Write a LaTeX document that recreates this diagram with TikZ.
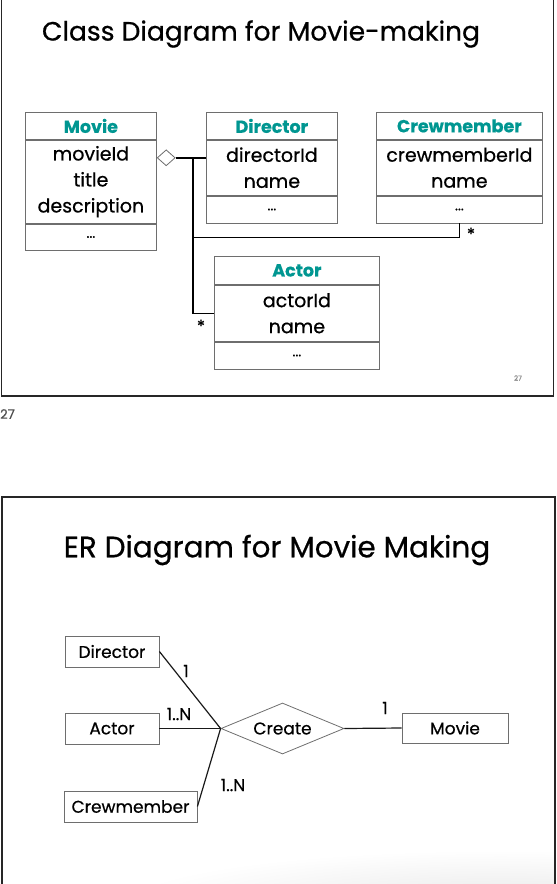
\documentclass[tikz,border=0pt]{standalone}
\usepackage{fontspec}
\setmainfont{Poppins}[RawFeature={embolden=0.6}]
\usetikzlibrary{shapes.geometric}
\definecolor{teal1}{RGB}{0,150,145}
\definecolor{boxgray}{RGB}{110,110,110}
\begin{document}
\begin{tikzpicture}[x=1pt,y=-1pt,
  slide/.style={draw=black!85, line width=1.4pt},
  comp/.style={draw=boxgray, line width=0.8pt, anchor=north west, inner sep=0pt, align=center},
  cname/.style={comp, text=teal1, font=\fontsize{17.5}{20}\selectfont\bfseries},
  cattr/.style={comp, font=\fontsize{19}{26}\selectfont},
  cops/.style={comp, font=\fontsize{14}{15}\selectfont},
  assoc/.style={draw=black, line width=1.4pt},
  aggd/.style={diamond, draw=boxgray, fill=white, line width=0.8pt, inner sep=0pt, minimum width=18pt, minimum height=16pt},
  mult/.style={inner sep=0pt, font=\fontsize{17}{20}\selectfont},
  erbox/.style={draw=boxgray, line width=0.8pt, inner sep=0pt, font=\fontsize{17}{20}\selectfont},
  erdia/.style={diamond, aspect=2.4, draw=boxgray, line width=0.8pt, inner sep=0pt, minimum width=123pt, minimum height=51pt, font=\fontsize{17}{20}\selectfont},
  erline/.style={draw=black!90, line width=1.2pt}
]
\useasboundingbox (0,0) rectangle (557,884);
% faint shadow at the bottom
\begin{scope}
\clip (3,840) rectangle (554,884);
\shade[inner color=black!9, outer color=white] (500,905) ellipse [x radius=380pt, y radius=55pt];
\end{scope}
% slide frames
\draw[slide] (1.5,0) -- (1.5,396) -- (553.5,396) -- (553.5,0);
\draw[slide] (2,884) -- (2,497) -- (555,497) -- (555,884);
% titles
\node[inner sep=0pt, font=\fontsize{26.5}{32}\selectfont] (t1) at (261,34) {Class Diagram for Movie-making};
\node[inner sep=0pt, font=\fontsize{29.5}{34}\selectfont] (t2) at (277,550) {ER Diagram for Movie Making};
% page numbers
\node[inner sep=0pt, text=black!45, font=\fontsize{7}{8}\selectfont] (pn) at (518,378) {27};
\node[inner sep=0pt, text=black!70, font=\fontsize{13}{14}\selectfont, anchor=west] (pn2) at (0,414) {27};

% ---- class Movie
\node[cname, minimum width=131pt, minimum height=27pt] (movH) at (25,112) {Movie};
\node[cattr, minimum width=131pt, minimum height=83pt] (movA) at (movH.south west) {movieId\\title\\description};
\node[cops, minimum width=131pt, minimum height=26pt] (movO) at (movA.south west) {...};
% ---- class Director
\node[cname, minimum width=131pt, minimum height=27pt] (dirH) at (206,112) {Director};
\node[cattr, minimum width=131pt, minimum height=55pt] (dirA) at (dirH.south west) {directorId\\name};
\node[cops, minimum width=131pt, minimum height=27pt] (dirO) at (dirA.south west) {...};
% ---- class Crewmember
\node[cname, minimum width=166pt, minimum height=27pt] (crwH) at (376,112) {Crewmember};
\node[cattr, minimum width=166pt, minimum height=55pt] (crwA) at (crwH.south west) {crewmemberId\\name};
\node[cops, minimum width=166pt, minimum height=27pt] (crwO) at (crwA.south west) {...};
% ---- class Actor
\node[cname, minimum width=165pt, minimum height=28pt] (actH) at (214,256) {Actor};
\node[cattr, minimum width=165pt, minimum height=56pt] (actA) at (actH.south west) {actorId\\name};
\node[cops, minimum width=165pt, minimum height=27pt] (actO) at (actA.south west) {...};

% ---- associations
\node[aggd, anchor=west] (agg) at ([yshift=-18pt]movA.north east) {};
\coordinate (trunk) at (193,157);
\draw[assoc] (agg.east) -- (agg.east -| dirA.west);
\draw[assoc] (trunk) |- ([yshift=-14pt]crwO.south) -- (crwO.south);
\draw[assoc] (trunk) |- (actA.west);
\node[mult] (s1) at (471,234) {*};
\node[mult] (s2) at (201,326) {*};

% ---- ER diagram
\node[erbox, minimum width=94pt, minimum height=31pt] (eDir) at (112,651.5) {Director};
\node[erbox, minimum width=94pt, minimum height=31pt] (eAct) at (112,728.5) {Actor};
\node[erbox, minimum width=133pt, minimum height=31pt] (eCrew) at (130.5,806.5) {Crewmember};
\node[erbox, minimum width=106pt, minimum height=30pt] (eMov) at (455,728) {Movie};
\node[erdia] (eCre) at (282.5,728.5) {Create};
\draw[erline] (eDir.east) -- (eCre.west);
\draw[erline] (eAct.east) -- (eCre.west);
\draw[erline] (eCrew.east) -- (eCre.west);
\draw[erline] (eCre.east) -- (eMov.west);
\node[mult] (m1) at (186,671) {1};
\node[mult] (m2) at (179,714) {1..N};
\node[mult] (m3) at (233,785) {1..N};
\node[mult] (m4) at (385,708) {1};
\end{tikzpicture}
\end{document}
